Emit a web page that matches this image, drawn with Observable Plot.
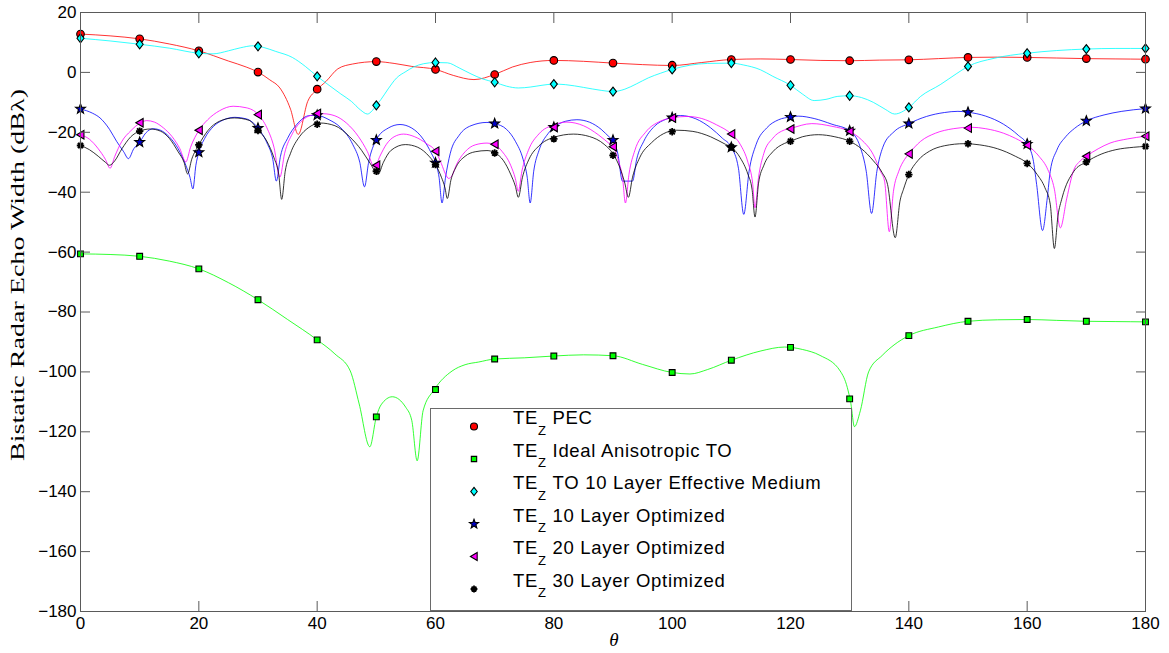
<!DOCTYPE html>
<html>
<head>
<meta charset="utf-8">
<script src="https://cdn.jsdelivr.net/npm/d3@7"></script>
<script src="https://cdn.jsdelivr.net/npm/@observablehq/plot@0.6"></script>
<style>
  body { margin: 0; background: #ffffff; }
  #chart { position: relative; width: 1169px; height: 653px; }
</style>
</head>
<body>
<div id="chart"></div>
<script>
// ---------------- data ----------------
const xTicks = [0, 20, 40, 60, 80, 100, 120, 140, 160, 180];
const yTicks = [-180, -160, -140, -120, -100, -80, -60, -40, -20, 0, 20];
const thetaMarks = [0, 10, 20, 30, 40, 50, 60, 70, 80, 90, 100, 110, 120, 130, 140, 150, 160, 170, 180];

const seriesNames = ["PEC", "Ideal Anisotropic TO", "TO 10 Layer Effective Medium",
  "10 Layer Optimized", "20 Layer Optimized", "30 Layer Optimized"];
const lineColors = ["#ff0000", "#00ff00", "#00ffff", "#0000ff", "#ff00ff", "#000000"];
const markerFills = ["#ff0000", "#00ff00", "#00ffff", "#0000c8", "#ff00ff", "none"];

// marker values at every 10 degrees
const pecMarks   = [12.8, 11.2, 7.2, 0.1, -5.6, 3.6, 1.0, -0.7, 4.0, 3.1, 2.4, 4.3, 4.3, 3.9, 4.2, 5.0, 5.0, 4.6, 4.4];
const idealMarks = [-60.6, -61.4, -65.6, -75.9, -89.3, -115.0, -105.9, -95.7, -94.7, -94.6, -100.2, -96.1, -91.8, -109.0, -87.9, -83.1, -82.5, -83.1, -83.3];
const effMarks   = [11.4, 9.4, 6.4, 8.7, -1.3, -11.0, 3.3, -3.3, -3.9, -6.4, 1.0, 3.1, -4.3, -7.8, -11.7, 2.0, 6.4, 7.8, 8.0];
const opt10Marks = [-12.2, -23.3, -26.7, -18.6, -14.3, -22.6, -30.2, -17.1, -18.3, -22.6, -15.1, -25.0, -14.9, -19.5, -17.1, -13.3, -23.9, -16.2, -12.1];
const opt20Marks = [-20.8, -16.8, -19.3, -14.1, -13.7, -31.0, -26.3, -24.0, -18.3, -24.8, -15.2, -20.6, -18.9, -19.7, -27.2, -18.6, -24.3, -28.0, -21.3];
const opt30Marks = [-24.4, -19.6, -24.2, -19.4, -17.3, -33.0, -30.8, -26.9, -22.2, -27.7, -19.8, -24.9, -23.0, -23.0, -34.1, -23.8, -30.4, -29.9, -24.7];

// continuous curves [theta, dB]
const pecLine = [[0,12.8],[5,12.2],[10,11.2],[15,9.5],[20,7.2],[25,3.8],[28,1.8],[30,0.1],[32,-2.5],[33.7,-5.2],[35.5,-12.3],[36.8,-20.7],[38.4,-9.7],[40,-5.7],[41.5,-3],[43.5,1.2],[46,2.8],[50,3.6],[53,3.0],[56,2.0],[60,1.0],[63,-1.0],[66.5,-2.4],[70,-0.7],[73,1.8],[76,3.3],[80,4.0],[85,3.7],[90,3.1],[95,2.6],[100,2.3],[105,3.3],[110,4.3],[115,4.5],[120,4.3],[125,4.0],[130,3.9],[135,4.1],[140,4.2],[145,4.6],[150,5.0],[155,5.1],[160,5.0],[165,4.8],[170,4.6],[175,4.5],[180,4.4]];

const idealLine = [[0,-60.6],[5,-60.8],[10,-61.4],[15,-63.0],[20,-65.6],[25,-70.2],[30,-75.9],[35,-82.5],[40,-89.3],[43,-94.0],[45.6,-99.7],[47.1,-110.7],[48.9,-125.0],[50,-115.0],[50.8,-111.0],[52.7,-108.3],[55,-111.9],[56,-116.3],[56.9,-129.7],[57.9,-113.0],[59.8,-105.9],[62.8,-99.7],[65,-97.6],[67.3,-96.7],[70,-95.7],[75,-95.3],[80,-94.7],[85,-94.3],[90,-94.6],[95,-97.5],[100,-100.2],[103,-100.7],[106,-99.2],[110,-96.1],[115,-93.0],[119,-91.7],[122,-92.5],[125,-94.5],[128.4,-99.7],[129.6,-105.2],[130.2,-110.5],[130.8,-118.3],[131.8,-113.0],[133.2,-100.0],[135.5,-94.5],[137.5,-91.0],[140,-87.9],[145,-85.0],[150,-83.1],[155,-82.6],[160,-82.5],[165,-82.8],[170,-83.1],[175,-83.2],[180,-83.3]];

const effLine = [[0,11.4],[5,10.5],[10,9.4],[15,8.1],[20,6.4],[22.4,6.2],[25,7.2],[27,8.2],[29.2,8.9],[31,8.3],[33,7.0],[35.8,5.0],[38,2.0],[40,-1.3],[42,-4.3],[44,-7.2],[45.8,-9.7],[47.3,-12.5],[48.5,-13.9],[49.3,-12.8],[50,-11.0],[50.8,-9.0],[52,-5.5],[53.4,-1.9],[55,0.3],[56.3,1.8],[58,2.9],[60,3.3],[62,3.2],[64,1.5],[66,-0.5],[68,-2.2],[70,-3.3],[72,-4.6],[74,-5.2],[76,-4.9],[78,-4.3],[80,-3.9],[82,-4.1],[85,-5.0],[88,-6.0],[90,-6.4],[92,-5.6],[94,-3.8],[96,-1.8],[98,-0.3],[100,1.0],[103,2.4],[106,3.0],[110,3.1],[112,2.5],[114.9,0.9],[117,-1.3],[120,-4.3],[122,-7.2],[124,-9.4],[126,-9.0],[128,-8.0],[130,-7.8],[132,-8.4],[134,-10.0],[136,-12.3],[137.6,-13.9],[140,-11.7],[142,-8.0],[145.3,-4.1],[148,-0.5],[150,2.0],[154.4,4.7],[160,6.4],[165,7.3],[170,7.8],[175,8.0],[180,8.0]];

const opt10Line = [[0,-12.2],[2,-13.6],[3.3,-15.2],[4.9,-19],[6.1,-23],[7.3,-26.5],[8.1,-28.8],[9,-25.5],[10,-23.3],[11,-20.3],[12.3,-18.8],[13.5,-19.3],[15,-21.5],[16.5,-25.5],[17.8,-31],[18.5,-35],[19,-38.9],[19.5,-31],[20,-26.7],[21,-22],[22.5,-18],[24,-16],[26.1,-15],[28,-15.5],[30,-18.6],[31.5,-23.5],[32.5,-29],[33.1,-36.3],[33.8,-28],[35,-22],[36.5,-17.5],[38.8,-14.4],[40,-14.4],[42,-15.8],[44,-18.5],[46,-24],[47.2,-30],[48,-38.2],[48.7,-30],[50,-22.5],[52,-18.6],[54,-17.4],[56,-18.6],[58,-22.5],[59.3,-27],[60,-30],[60.6,-35],[61.1,-43.6],[61.7,-35],[62.5,-27],[64,-21],[66,-17.8],[68.7,-16.7],[70,-17.1],[72,-19],[73.5,-23],[74.8,-29],[75.5,-35],[76,-43.6],[76.6,-33],[77.5,-26],[79,-20.5],[80,-18.4],[82,-16.3],[83.9,-15.8],[86,-16.6],[88,-19],[89.5,-21.8],[90,-22.6],[90.8,-27],[91.6,-36.3],[93.3,-36.3],[94,-29],[95.2,-23],[97,-18],[99,-15.6],[101.4,-14.4],[104,-15.5],[106.5,-18.5],[108.5,-22],[110,-25],[111.2,-32],[112.1,-47.4],[113,-33],[114.2,-24],[116,-18.5],[118,-15.8],[120,-14.9],[121.3,-14.6],[124,-15.4],[127,-17.3],[130,-19.5],[131.8,-25],[132.8,-33],[133.7,-47.1],[134.6,-33],[135.6,-25],[137.5,-19.8],[140,-17.1],[143,-14.7],[146,-13.4],[148.3,-13],[150,-13.3],[153,-14.6],[156,-17.3],[158.5,-21],[160,-24],[161,-29],[161.6,-37.4],[162.6,-52.8],[163.4,-41.9],[163.9,-33],[165,-26],[166.5,-21.5],[168,-18.7],[170,-16.2],[173,-14.2],[176,-13],[180,-12.1]];

const opt20Line = [[0,-20.8],[1.5,-22.3],[3,-25.5],[4.2,-29],[5,-32],[5.8,-28],[7,-23],[8.5,-19.5],[10,-17],[11.2,-16.1],[12.5,-16.6],[14,-18.5],[15.5,-21.5],[16.8,-25.5],[17.8,-29.9],[18.6,-25],[20,-19.4],[21.5,-15.8],[23.5,-12.8],[25.8,-11.3],[28,-11.8],[30,-14],[31.5,-18.5],[32.7,-25],[33.7,-35],[34.5,-27],[35.8,-20.5],[37.5,-16],[39,-14.3],[41,-13.8],[43,-14.5],[45,-17],[47,-21.5],[48.5,-26.5],[49.7,-31.8],[50.6,-28],[51.7,-24],[53,-21.5],[54.6,-20.6],[56.5,-21.5],[58.5,-23.8],[60,-26.3],[61,-30.5],[61.7,-34],[62.2,-35.4],[62.8,-34.5],[63.5,-31],[65,-26.5],[66.7,-24.2],[68.7,-23.6],[70,-24.1],[71.3,-26.5],[72.7,-31],[73.5,-35.5],[74,-39.7],[74.6,-33],[75.7,-26],[77.5,-20.5],[80,-17.5],[82.2,-16.6],[85,-17.8],[87.5,-20.8],[89.5,-24],[90,-24.8],[91,-30],[91.6,-35],[92.1,-43.6],[92.7,-34],[93.7,-26],[95.5,-20],[98,-16.3],[100,-15.2],[102.5,-14.7],[105,-15.4],[107.5,-17.5],[110,-20.6],[111.5,-24],[112.8,-30],[113.6,-37],[114,-45.2],[114.6,-35],[115.5,-27],[117,-22],[119,-19.2],[120,-18.7],[123.6,-17.1],[127,-18],[130,-19.7],[132,-22.5],[134,-27.5],[135.2,-33],[135.9,-36.3],[136.7,-53.2],[137.4,-39.7],[138.3,-33],[139.3,-29],[140,-27.2],[142,-23],[144.5,-20.3],[147.5,-18.8],[150.5,-18.3],[153,-18.8],[156,-20.3],[158,-22],[160,-24.3],[162,-28],[163.5,-32.5],[164.6,-39],[165.6,-51.9],[166.7,-42],[167.8,-33],[169,-29.5],[170,-28],[172,-25.5],[174,-23.6],[177,-22.2],[180,-21.3]];

const opt30Line = [[0,-24.4],[1.5,-25.8],[3,-28],[4.2,-30],[4.9,-31],[5.8,-29.5],[7,-25.5],[8.5,-21.5],[10,-19.6],[11.8,-18.9],[13.5,-19.6],[15,-22],[16.5,-26.5],[17.5,-30],[18.1,-33.9],[18.8,-29],[20,-24.2],[21.5,-19.5],[23.5,-16.3],[26,-15.2],[28.5,-16],[30,-19.2],[31.5,-23],[32.7,-28.5],[33.5,-34],[34,-42.4],[34.6,-33],[35.5,-27],[37,-21.5],[38.5,-18.5],[40.5,-16.9],[43,-17.8],[45.5,-21.5],[47.5,-26],[49,-30.5],[50.3,-34],[51.2,-30],[52.5,-26],[54.9,-24.1],[57,-25],[59,-28.2],[60,-30.8],[61,-35],[61.6,-38.5],[62,-42.1],[62.6,-36],[63.5,-31.5],[65,-28],[66.7,-26.5],[68.7,-26.1],[70,-26.8],[71.5,-29.5],[72.7,-34],[73.5,-38],[74,-41.7],[74.7,-35],[75.8,-29],[77.5,-24.5],[80,-21.7],[83.3,-20.6],[86,-21.4],[88.5,-24],[90,-27.2],[91.2,-32],[92,-37],[92.6,-41.7],[93.3,-35],[94.5,-28.5],[96.5,-23.5],[98.5,-20.5],[100.8,-19.3],[103.5,-19.7],[106.5,-21.5],[109,-24],[110,-25],[111.5,-28.5],[112.8,-34],[113.5,-39],[114,-48.3],[114.6,-37],[115.5,-31],[117,-26.5],[119,-23.7],[120,-23],[122,-21.5],[124.7,-20.8],[127.5,-21.5],[130,-23],[132,-25.5],[134,-29.5],[135.5,-33.5],[136.4,-37.4],[137.7,-55.2],[138.5,-43],[139.1,-39],[140,-34.1],[141.5,-29.5],[143.5,-26.3],[146,-24.5],[149.4,-23.8],[152,-24.2],[155,-25.5],[158,-28],[160,-30.3],[161.7,-34.1],[163,-38.5],[163.9,-44],[164.6,-58.8],[165.2,-48],[165.9,-41.9],[167.9,-33],[170,-29.9],[172.5,-27.3],[175,-25.8],[178,-25],[180,-24.7]];

// ---------------- symbols ----------------
const rad = s => Math.sqrt(s / Math.PI);
const circleSym = {draw(c, s) { const r = rad(s); c.moveTo(r, 0); c.arc(0, 0, r, 0, 2 * Math.PI); c.closePath(); }};
const squareSym = {draw(c, s) { const r = rad(s); c.rect(-r, -r, 2 * r, 2 * r); }};
const diamondSym = {draw(c, s) { const r = rad(s); c.moveTo(0, -r); c.lineTo(r * 0.78, 0); c.lineTo(0, r); c.lineTo(-r * 0.78, 0); c.closePath(); }};
const starSym = {draw(c, s) {
  const R = rad(s), ri = R * 0.42;
  for (let i = 0; i < 10; i++) {
    const a = -Math.PI / 2 + i * Math.PI / 5, rr = i % 2 ? ri : R;
    const x = rr * Math.cos(a), y = rr * Math.sin(a);
    if (i) c.lineTo(x, y); else c.moveTo(x, y);
  }
  c.closePath();
}};
const leftTriSym = {draw(c, s) { const r = rad(s); c.moveTo(-r * 0.9, 0); c.lineTo(r * 0.8, -r); c.lineTo(r * 0.8, r); c.closePath(); }};
const asteriskSym = {draw(c, s) {
  const r = rad(s);
  for (let i = 0; i < 4; i++) {
    const a = i * Math.PI / 4;
    c.moveTo(r * Math.cos(a), r * Math.sin(a));
    c.lineTo(-r * Math.cos(a), -r * Math.sin(a));
  }
}};

const symbols = [circleSym, squareSym, diamondSym, starSym, leftTriSym, asteriskSym];
const radii = [3.8, 2.9, 4.5, 5.2, 4.3, 3.7];
const markerStrokeW = [1.1, 1.1, 1.1, 1.1, 1.1, 1.8];
const marksList = [pecMarks, idealMarks, effMarks, opt10Marks, opt20Marks, opt30Marks];
const linesList = [pecLine, idealLine, effLine, opt10Line, opt20Line, opt30Line];

const fmt = d => d < 0 ? "\u2212" + Math.abs(d) : String(d);

const lineMarks = linesList.map((L, i) => Plot.line(L, {
  x: d => d[0], y: d => d[1], stroke: lineColors[i], strokeWidth: 0.8, curve: "monotone-x"
}));
const dotMarks = marksList.map((M, i) => Plot.dot(M, {
  x: (d, j) => thetaMarks[j], y: d => d,
  symbol: symbols[i], r: radii[i],
  fill: markerFills[i], stroke: "#000", strokeWidth: markerStrokeW[i]
}));

const axisColor = "#5a5a5a";
const chart = Plot.plot({
  width: 1169, height: 653,
  marginLeft: 80, marginRight: 24, marginTop: 12, marginBottom: 42,
  style: {fontFamily: "'Liberation Sans', Arial, Helvetica, sans-serif", fontSize: "17px", color: "#000", background: "#fff", overflow: "visible"},
  x: {domain: [0, 180], label: null},
  y: {domain: [-180, 20], label: null},
  marks: [
    ...lineMarks,
    ...dotMarks,
    Plot.frame({stroke: axisColor, strokeWidth: 1}),
    Plot.axisX(xTicks, {anchor: "bottom", tickSize: -10, tickPadding: 15, stroke: axisColor, tickFormat: fmt, fill: "#000"}),
    Plot.axisX(xTicks, {anchor: "top", tickSize: -10, stroke: axisColor, tickFormat: () => ""}),
    Plot.axisY(yTicks, {anchor: "left", tickSize: -10, tickPadding: 14, stroke: axisColor, tickFormat: fmt, fill: "#000"}),
    Plot.axisY(yTicks, {anchor: "right", tickSize: -10, stroke: axisColor, tickFormat: () => ""})
  ]
});
document.getElementById("chart").appendChild(chart);

// ---------------- axis titles & legend ----------------
const svg = d3.select(chart);
svg.append("text")
  .attr("transform", "translate(24,275) rotate(-90)")
  .attr("text-anchor", "middle")
  .attr("textLength", 372).attr("lengthAdjust", "spacingAndGlyphs")
  .style("font-family", "'Liberation Serif', 'DejaVu Serif', serif")
  .style("font-size", "18px").attr("fill", "#000")
  .text("Bistatic Radar Echo Width (dB\u03bb)");
svg.append("text")
  .attr("x", 614).attr("y", 646)
  .attr("text-anchor", "middle")
  .style("font-family", "'Liberation Serif', 'DejaVu Serif', serif")
  .style("font-style", "italic")
  .style("font-size", "19px").attr("fill", "#000")
  .text("\u03b8");

const lg = svg.append("g");
lg.append("rect").attr("x", 430.5).attr("y", 408.5).attr("width", 421).attr("height", 202)
  .attr("fill", "#fff").attr("stroke", "#6a6a6a").attr("stroke-width", 1);
seriesNames.forEach((name, i) => {
  const cy = 426.5 + i * 32.5;
  lg.append("path")
    .attr("transform", `translate(474,${cy})`)
    .attr("d", d3.symbol(symbols[i], Math.PI * radii[i] * radii[i] * 0.85)())
    .attr("fill", markerFills[i]).attr("stroke", "#000").attr("stroke-width", markerStrokeW[i]);
  const t = lg.append("text").attr("x", 513).attr("y", cy - 2.3)
    .attr("text-anchor", "start")
    .style("font-family", "'Liberation Sans', Arial, Helvetica, sans-serif")
    .style("font-size", "18.5px").style("letter-spacing", "0.7px").attr("fill", "#000");
  t.append("tspan").text("TE");
  t.append("tspan").attr("dy", 10.5).style("font-size", "13px").text("Z");
  t.append("tspan").attr("dy", -10.5).text("\u00a0" + name);
});
</script>
</body>
</html>
